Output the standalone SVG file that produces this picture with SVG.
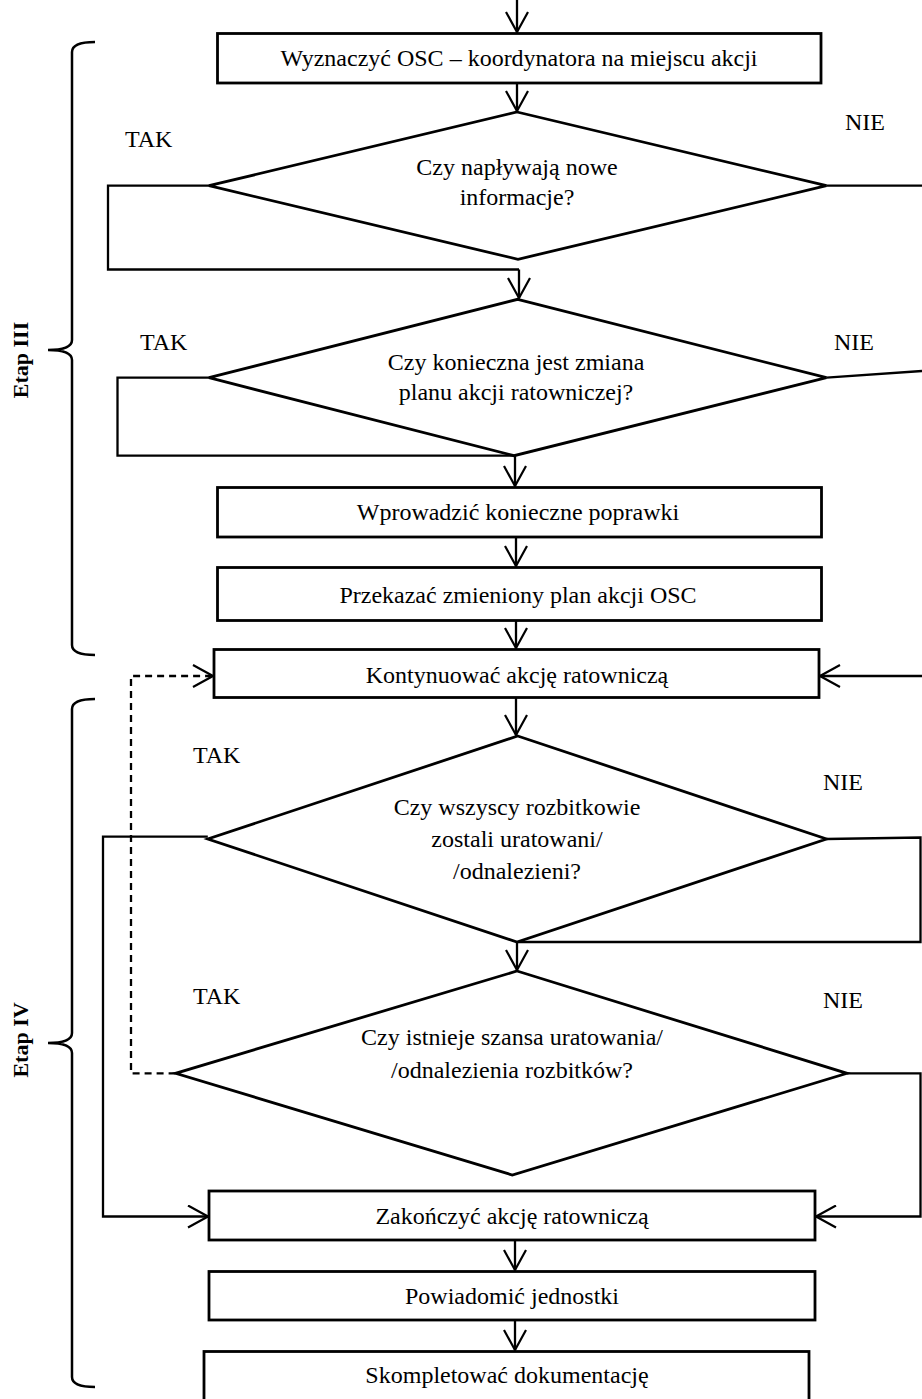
<svg xmlns="http://www.w3.org/2000/svg" width="922" height="1399" viewBox="0 0 922 1399" font-family="'Liberation Serif', 'DejaVu Serif', serif">
<style>
.box{fill:#fff;stroke:#000;stroke-width:2.8}
.dia{fill:#fff;stroke:#000;stroke-width:2.8}
text{font-family:'Liberation Serif', 'DejaVu Serif', serif}
.t{font-size:24px;fill:#000;text-anchor:middle}
.lbl{font-size:24px;fill:#000}
.etap{font-size:22px;font-weight:bold;fill:#000;text-anchor:middle}
.ln{fill:none;stroke:#000;stroke-width:2.3}
.dash{fill:none;stroke:#000;stroke-width:2.3;stroke-dasharray:7,5}
.brace{fill:none;stroke:#000;stroke-width:2.5}
</style>
<defs>
<marker id="arr" markerUnits="userSpaceOnUse" viewBox="0 0 22 24" refX="21" refY="12" markerWidth="22" markerHeight="24" orient="auto">
<path d="M1,1 L21,12 L1,23" fill="none" stroke="#000" stroke-width="2.2"/>
</marker>
</defs>
<rect width="922" height="1399" fill="#fff"/>

<g id="connectors">
<path class="ln" d="M517,0 V32" marker-end="url(#arr)"/>
<path class="ln" d="M517,83 V111" marker-end="url(#arr)"/>
<path class="ln" d="M209,185.7 H108 V269.5 H519"/>
<path class="ln" d="M519,269.5 V298" marker-end="url(#arr)"/>
<path class="ln" d="M826.5,185.7 H922"/>
<path class="ln" d="M209,377.7 H117.5 V455.7 H515"/>
<path class="ln" d="M826.5,377.7 L922,371"/>
<path class="ln" d="M515,455.7 V486" marker-end="url(#arr)"/>
<path class="ln" d="M516,537 V566" marker-end="url(#arr)"/>
<path class="ln" d="M516,621 V648" marker-end="url(#arr)"/>
<path class="ln" d="M922,676 H820" marker-end="url(#arr)"/>
<path class="ln" d="M516,697 V735" marker-end="url(#arr)"/>
<path class="ln" d="M207.8,836.7 H103 V1216.5 H208" marker-end="url(#arr)"/>
<path class="ln" d="M826.5,839 L920.5,837.5 V942 H517"/>
<path class="ln" d="M517,942 V970" marker-end="url(#arr)"/>
<path class="dash" d="M175.6,1073.3 H131 V676 H213" marker-end="url(#arr)"/>
<path class="ln" d="M847,1073.3 H920.5 V1216.5 H816" marker-end="url(#arr)"/>
<path class="ln" d="M515,1240 V1270" marker-end="url(#arr)"/>
<path class="ln" d="M515,1320 V1350" marker-end="url(#arr)"/>
</g>

<g id="n1">
<rect class="box" x="217.5" y="33.5" width="603.5" height="49.5"/>
<text class="t" x="519" y="66">Wyznaczyć OSC – koordynatora na miejscu akcji</text>
</g>
<g id="d1">
<polygon class="dia" points="517,112 826.5,185.7 518,259.3 209,185.7"/>
<text class="t" x="517" y="175">Czy napływają nowe</text>
<text class="t" x="517" y="205">informacje?</text>
</g>
<g id="d2">
<polygon class="dia" points="517.7,299.3 826.5,377.7 514,455.7 209,377.7"/>
<text class="t" x="516" y="370">Czy konieczna jest zmiana</text>
<text class="t" x="516" y="400">planu akcji ratowniczej?</text>
</g>
<g id="n3">
<rect class="box" x="217.5" y="487.5" width="604" height="49.5"/>
<text class="t" x="518" y="520">Wprowadzić konieczne poprawki</text>
</g>
<g id="n4">
<rect class="box" x="217.5" y="567.5" width="604" height="53"/>
<text class="t" x="518" y="603">Przekazać zmieniony plan akcji OSC</text>
</g>
<g id="n5">
<rect class="box" x="214" y="649.5" width="605" height="48"/>
<text class="t" x="517" y="683">Kontynuować akcję ratowniczą</text>
</g>
<g id="d3">
<polygon class="dia" points="517.7,736 826.5,839 517,942 207.8,839"/>
<text class="t" x="517" y="815">Czy wszyscy rozbitkowie</text>
<text class="t" x="517" y="847">zostali uratowani/</text>
<text class="t" x="517" y="879">/odnalezieni?</text>
</g>
<g id="d4">
<polygon class="dia" points="517,971 847,1073.3 512.3,1175 175.6,1073.3"/>
<text class="t" x="512" y="1045">Czy istnieje szansa uratowania/</text>
<text class="t" x="512" y="1078">/odnalezienia rozbitków?</text>
</g>
<g id="n6">
<rect class="box" x="209" y="1191" width="606" height="49"/>
<text class="t" x="512" y="1224">Zakończyć akcję ratowniczą</text>
</g>
<g id="n7">
<rect class="box" x="209" y="1271.5" width="606" height="48.5"/>
<text class="t" x="512" y="1304">Powiadomić jednostki</text>
</g>
<g id="n8">
<rect class="box" x="204" y="1351.5" width="605" height="60"/>
<text class="t" x="507" y="1383">Skompletować dokumentację</text>
</g>

<g id="labels">
<text class="lbl" x="125" y="147">TAK</text>
<text class="lbl" x="845" y="130">NIE</text>
<text class="lbl" x="140" y="350">TAK</text>
<text class="lbl" x="834" y="350">NIE</text>
<text class="lbl" x="193" y="763">TAK</text>
<text class="lbl" x="823" y="790">NIE</text>
<text class="lbl" x="193" y="1004">TAK</text>
<text class="lbl" x="823" y="1008">NIE</text>
</g>

<g id="etap3">
<path class="brace" d="M95,42 Q72,42 72,52 V340 Q72,350 48,350 Q72,350 72,360 V645 Q72,655 95,655"/>
<text class="etap" transform="translate(28,360) rotate(-90)" x="0" y="0">Etap III</text>
</g>
<g id="etap4">
<path class="brace" d="M95,699 Q72,699 72,709 V1033 Q72,1043 48,1043 Q72,1043 72,1053 V1377 Q72,1387 95,1387"/>
<text class="etap" transform="translate(28,1040) rotate(-90)" x="0" y="0">Etap IV</text>
</g>
</svg>
